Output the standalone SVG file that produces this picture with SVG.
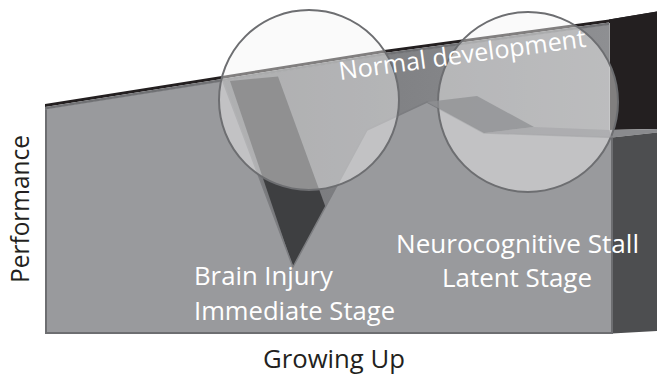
<svg xmlns="http://www.w3.org/2000/svg" width="657" height="375" viewBox="0 0 657 375">
  <defs>
    <linearGradient id="planeGrad" x1="223" y1="0" x2="609" y2="0" gradientUnits="userSpaceOnUse">
      <stop offset="0" stop-color="#76777a"/>
      <stop offset="1" stop-color="#8e8f92"/>
    </linearGradient>
  </defs>
  <style>
    .lbl { font-family: "Open Sans", "Noto Sans", "Liberation Sans", sans-serif; font-size: 25px; font-weight: 400; }
    .white { fill: #ffffff; }
    .dark { fill: #231f20; }
    .lens { fill: #f4f4f5; fill-opacity: 0.45; stroke: #6d6e71; stroke-width: 2; }
  </style>
  <rect width="657" height="375" fill="#ffffff"/>

  <g id="chart-box">
    <!-- back plane (normal development level) -->
    <polygon points="45,109 225,80.5 384,55 609,24.5 609,333 45,333" fill="url(#planeGrad)"/>
    <!-- top edge strip -->
    <polygon points="45,104 225,75.5 384,50 609,19.5 657,11.5 657,14.5 609,22.5 384,53 225,78.5 45,107" fill="#231f20"/>
    <polygon points="45,107 225,78.5 384,53 609,22.5 609,25 384,55.5 225,81 45,109.5" fill="#707174"/>
    <!-- right black block -->
    <polygon points="609,19.5 657,11.5 657,129 609,130" fill="#231f20"/>
    <line x1="609.5" y1="23" x2="609.5" y2="137" stroke="#a3a4a6" stroke-width="1"/>
    <!-- right flat top strip -->
    <polygon points="609,130 657,129 657,132.5 612,137.5 609,137.5" fill="#8a8b8e"/>
    <!-- right side face -->
    <polygon points="612,137.5 657,132.5 657,331 612,333.5" fill="#4d4e50"/>
    <!-- dark face of the drop -->
    <polygon points="230,81 278,76.5 325.5,207 293,267" fill="#3e3f41"/>
    <!-- front face -->
    <polygon points="45,109.5 223,81.5 293,267 367,130 427,102 484,133 612,137.5 612,333.5 45,333.5" fill="#999a9d"/>
    <polyline points="223,81.5 293,267 367,130 427,102 484,133 612,137.5" fill="none" stroke="#7c7d80" stroke-width="1.5" stroke-linejoin="round"/>
    <polyline points="46,109.5 46,333 612,333 612,137.5" fill="none" stroke="#6d6e71" stroke-width="2"/>
  </g>

  <g id="lens-immediate">
    <circle class="lens" cx="309" cy="100" r="90"/>
  </g>
  <g id="lens-latent">
    <circle class="lens" cx="528" cy="102" r="90"/>
  </g>

  <g id="peak-faces">
    <polygon points="427,102 477,96 534,127 484,133" fill="#8f9093" fill-opacity="0.75"/>
    <polygon points="484,133 534,127 609,130 612,137.5" fill="#a2a3a5" fill-opacity="0.55"/>
  </g>

  <g id="connectors"></g>

  <g id="label-normal">
    <text class="lbl white" transform="translate(340,80) rotate(-7.7)" x="0" y="0" textLength="249" lengthAdjust="spacingAndGlyphs">Normal development</text>
  </g>
  <g id="label-immediate">
    <text class="lbl white" x="194" y="285" textLength="139" lengthAdjust="spacingAndGlyphs">Brain Injury</text>
    <text class="lbl white" x="194" y="320" textLength="201" lengthAdjust="spacingAndGlyphs">Immediate Stage</text>
  </g>
  <g id="label-latent">
    <text class="lbl white" x="396" y="253" textLength="243" lengthAdjust="spacingAndGlyphs">Neurocognitive Stall</text>
    <text class="lbl white" x="442" y="287" textLength="150" lengthAdjust="spacingAndGlyphs">Latent Stage</text>
  </g>
  <g id="axis-y">
    <text class="lbl dark" transform="translate(29,283) rotate(-90)" x="0" y="0" textLength="148" lengthAdjust="spacingAndGlyphs">Performance</text>
  </g>
  <g id="axis-x">
    <text class="lbl dark" x="263" y="368" textLength="142" lengthAdjust="spacingAndGlyphs">Growing Up</text>
  </g>
</svg>
